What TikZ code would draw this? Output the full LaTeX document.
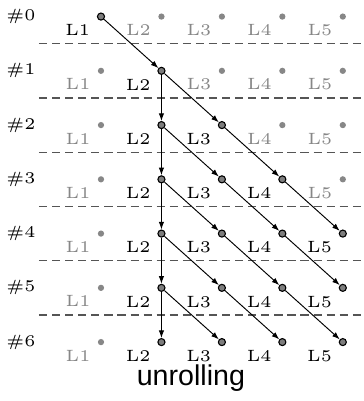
\documentclass[tikz,border=0pt]{standalone}
\usepackage{fontspec}
\usetikzlibrary{arrows.meta, positioning}
\newfontfamily\capfont{Liberation Sans}
\newfontfamily\labfont{lmroman5-regular.otf}
\definecolor{offgray}{RGB}{135,135,135}
\definecolor{dotfill}{RGB}{125,125,125}
\definecolor{sepgray}{RGB}{85,85,85}
\tikzset{
  off/.style  = {circle, fill=offgray, inner sep=0pt, minimum size=2.3pt},
  on/.style   = {circle, draw=black, fill=dotfill, line width=0.4pt,
                 inner sep=0pt, minimum size=2.6pt},
  lbl/.style  = {font=\labfont\fontsize{6}{7}\selectfont, text=black},
  offlbl/.style = {lbl, text=offgray},
  flow/.style = {-{Latex[length=2.8pt, width=2pt]}, line width=0.35pt},
  sep/.style  = {draw=sepgray, dash pattern=on 3pt off 1.8pt, line width=0.4pt},
}

\begin{document}
\begin{tikzpicture}
  \useasboundingbox (-1.303,0.194) rectangle (3.393,-4.98);
  % layers per step, active ones outlined
  \foreach \r in {0,...,6} {
    \node[lbl] (row-\r) at (-1.032,{-\r*0.7-0.02}) {\#\r};
    \foreach \c in {1,...,5} {
      \pgfmathtruncatemacro\act{(\r==0 && \c==1) || (\r>0 && \c>1 && \c<=\r+1)}
      \ifnum\act=1
        \node[on] (d-\r-\c) at ({(\c-1)*0.78},{-\r*0.7-0.02}) {};
        \node[lbl, below left=-1.6pt and -0.6pt of d-\r-\c] (t-\r-\c) {L\c};
      \else
        \node[off] (d-\r-\c) at ({(\c-1)*0.78},{-\r*0.7-0.02}) {};
        \node[offlbl, below left=-1.6pt and -0.6pt of d-\r-\c] (t-\r-\c) {L\c};
      \fi
    }
  }
  % step separators
  \foreach \r in {0,...,5}
    \draw[sep] (-0.80,{-(\r+0.5)*0.7-0.02}) -- (3.393,{-(\r+0.5)*0.7-0.02});
  % data flow
  \draw[flow] (d-0-1) -- (d-1-2);
  \foreach \r in {1,...,5} {
    \pgfmathtruncatemacro\nxt{\r+1}
    \pgfmathtruncatemacro\top{min(\r+1,4)}
    \draw[flow] (d-\r-2) -- (d-\nxt-2);
    \foreach \c in {2,...,\top} {
      \pgfmathtruncatemacro\cn{\c+1}
      \draw[flow] (d-\r-\c) -- (d-\nxt-\cn);
    }
  }
  \node[font=\capfont\fontsize{10.5}{12}\selectfont] (cap) at (1.16,-4.68) {unrolling};
\end{tikzpicture}
\end{document}
